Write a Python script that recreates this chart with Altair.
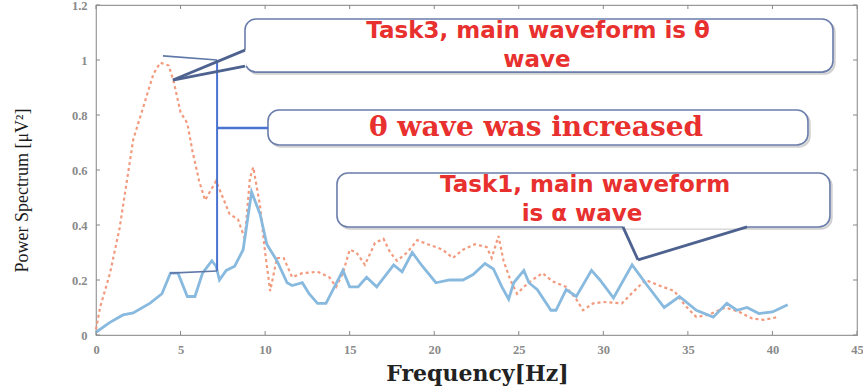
import altair as alt
import pandas as pd

# ---- data ----
task1_freq = [0.0, 0.8, 1.6, 2.2, 3.2, 3.9, 4.4, 4.85, 5.4, 5.85, 6.3, 6.85, 7.1, 7.3, 7.7, 8.2,
              8.7, 9.2, 9.7, 10.1, 10.7, 11.3, 11.6, 12.2, 12.6, 13.1, 13.6, 14.1, 14.6, 15.0,
              15.5, 16.0, 16.6, 17.6, 18.1, 18.7, 19.3, 20.1, 20.9, 21.7, 22.3, 23.0, 23.5,
              24.0, 24.4, 24.7, 25.3, 25.6, 26.1, 26.9, 27.2, 27.8, 28.4, 29.3, 29.8, 30.6,
              31.7, 32.6, 33.6, 34.5, 35.5, 36.5, 37.3, 37.9, 38.5, 39.2, 40.0, 40.9]
task1_power = [0.01, 0.045, 0.073, 0.08, 0.116, 0.15, 0.225, 0.225, 0.14, 0.14, 0.225, 0.27,
               0.25, 0.2, 0.235, 0.25, 0.31, 0.52, 0.44, 0.33, 0.27, 0.19, 0.18, 0.19, 0.15,
               0.115, 0.115, 0.175, 0.235, 0.175, 0.175, 0.21, 0.175, 0.255, 0.23, 0.3, 0.25,
               0.19, 0.2, 0.2, 0.22, 0.26, 0.24, 0.175, 0.13, 0.19, 0.235, 0.19, 0.165, 0.09,
               0.09, 0.165, 0.14, 0.235, 0.2, 0.135, 0.255, 0.18, 0.1, 0.14, 0.09, 0.065,
               0.115, 0.09, 0.1, 0.078, 0.084, 0.11]

task3_freq = [0.0, 0.24, 0.83, 1.4, 1.8, 2.2, 2.6, 3.0, 3.4, 3.8, 4.3, 4.6, 5.0, 5.4, 5.7, 6.1,
              6.45, 7.1, 7.5, 7.9, 8.4, 8.8, 9.1, 9.3, 9.7, 10.0, 10.3, 10.7, 11.1, 11.6, 12.2,
              13.1, 13.8, 14.2, 14.6, 15.0, 15.4, 15.9, 16.5, 17.0, 17.4, 17.8, 18.4, 19.0,
              19.6, 20.1, 20.5, 21.1, 21.7, 22.4, 23.1, 23.4, 23.8, 24.1, 24.5, 24.9, 25.3,
              25.8, 26.4, 27.0, 27.8, 28.4, 28.8, 29.4, 30.0, 31.1, 31.9, 32.5, 33.3, 34.2,
              34.8, 35.5, 36.3, 37.2, 38.0, 38.8, 39.5, 40.3]
task3_power = [0.02, 0.1, 0.225, 0.39, 0.55, 0.71, 0.79, 0.87, 0.95, 0.99, 0.98, 0.92, 0.81,
               0.77, 0.67, 0.56, 0.49, 0.56, 0.5, 0.44, 0.42, 0.35, 0.57, 0.61, 0.47, 0.3,
               0.16, 0.28, 0.28, 0.21, 0.225, 0.23, 0.21, 0.175, 0.225, 0.31, 0.3, 0.255,
               0.335, 0.35, 0.3, 0.27, 0.3, 0.345, 0.33, 0.32, 0.31, 0.28, 0.31, 0.33, 0.32,
               0.28, 0.36, 0.27, 0.2, 0.15, 0.175, 0.2, 0.225, 0.195, 0.175, 0.13, 0.09,
               0.115, 0.12, 0.115, 0.165, 0.2, 0.18, 0.16, 0.11, 0.065, 0.075, 0.1, 0.085,
               0.06, 0.055, 0.065]

x_ticks = [0, 5, 10, 15, 20, 25, 30, 35, 40, 45]
y_ticks = [0, 0.2, 0.4, 0.6, 0.8, 1.0, 1.2]

# annotation callout boxes (data coordinates)
box_x1 = [8.81, 10.17, 14.25]
box_x2 = [43.58, 42.10, 43.40]
box_y1 = [1.149, 0.818, 0.589]
box_y2 = [0.956, 0.691, 0.393]

# annotation texts
sans_text = ["Task3, main waveform is \u03b8", "wave", "Task1, main waveform", "is \u03b1 wave"]
sans_x = [26.14, 26.08, 28.92, 28.74]
sans_y = [1.105, 1.0, 0.545, 0.44]
serif_text = ["\u03b8 wave was increased"]
serif_x = [26.02]
serif_y = [0.753]

W, H = 761, 330
xs = alt.Scale(domain=[0, 45], nice=False, zero=False)
ys = alt.Scale(domain=[0, 1.2], nice=False, zero=False)

series = pd.concat([
    pd.DataFrame({"f": task1_freq, "p": task1_power, "task": "Task1"}),
    pd.DataFrame({"f": task3_freq, "p": task3_power, "task": "Task3"}),
])

AX = alt.Axis(values=x_ticks, ticks=False, domain=False, grid=False,
              labelFont="Liberation Serif", labelFontSize=12.5, labelFontWeight="bold",
              labelColor="#8a8a8a", labelPadding=8, labelFlush=False,
              title="Frequency[Hz]", titleFont="DejaVu Serif", titleFontSize=22,
              titleFontWeight="bold", titleColor="#222222", titleX=381, titleY=38,
              titleBaseline="middle", titleAlign="center")
AY = alt.Axis(values=y_ticks, ticks=False, domain=False, grid=False,
              labelFont="Liberation Serif", labelFontSize=12.5, labelFontWeight="bold",
              labelColor="#8a8a8a", labelPadding=9, labelFlush=False,
              labelExpr="datum.value == 0 ? '0' : datum.value == 1 ? '1' : format(datum.value, '.1f')",
              title="Power Spectrum [\u03bcV\u00b2]", titleFont="Liberation Serif",
              titleFontSize=18, titleFontWeight="normal", titleColor="#1a1a1a",
              titleX=-74, titleY=185, titleAngle=270, titleAlign="center",
              titleBaseline="middle")


def X(field):
    return alt.X(field, scale=xs, axis=AX)


def Y(field):
    return alt.Y(field, scale=ys, axis=AY)


task3_line = alt.Chart(series[series.task == "Task3"]).mark_line(
    color="#f29a7e", strokeWidth=2.2, strokeDash=[3, 3]
).encode(x=X("f:Q"), y=Y("p:Q"))

task1_line = alt.Chart(series[series.task == "Task1"]).mark_line(
    color="#88b9de", strokeWidth=2.8
).encode(x=X("f:Q"), y=Y("p:Q"))

# inward frame ticks
xt = pd.DataFrame({"v": x_ticks})
yt = pd.DataFrame({"v": y_ticks})
tick_col = "#888888"
bottom_ticks = alt.Chart(xt).mark_rule(color=tick_col, strokeWidth=1).encode(
    x=X("v:Q"), y=alt.value(H), y2=alt.value(H - 4))
top_ticks = alt.Chart(xt).mark_rule(color=tick_col, strokeWidth=1).encode(
    x=X("v:Q"), y=alt.value(0), y2=alt.value(4))
left_ticks = alt.Chart(yt).mark_rule(color=tick_col, strokeWidth=1).encode(
    y=Y("v:Q"), x=alt.value(0), x2=alt.value(4))
right_ticks = alt.Chart(yt).mark_rule(color=tick_col, strokeWidth=1).encode(
    y=Y("v:Q"), x=alt.value(W), x2=alt.value(W - 4))

# callout boxes
boxes_df = pd.DataFrame({"x1": box_x1, "x2": box_x2, "y1": box_y1, "y2": box_y2})
shadow = alt.Chart(boxes_df).mark_rect(
    fill="#dddddd", stroke="#d0d0d0", strokeWidth=1.5, cornerRadius=11,
    xOffset=2, yOffset=2, x2Offset=2, y2Offset=2
).encode(x=X("x1:Q"), x2="x2:Q", y=Y("y1:Q"), y2="y2:Q")
boxes = alt.Chart(boxes_df).mark_rect(
    fill="white", stroke="#6a7dab", strokeWidth=1.6, cornerRadius=11
).encode(x=X("x1:Q"), x2="x2:Q", y=Y("y1:Q"), y2="y2:Q")

# gaps in box outlines where the pointers attach
gaps_df = pd.DataFrame({"x1": [8.81, 31.16], "x2": [8.81, 38.50],
                        "y1": [1.036, 0.393], "y2": [0.978, 0.393]})
gaps = alt.Chart(gaps_df).mark_rule(color="white", strokeWidth=3).encode(
    x=X("x1:Q"), x2="x2:Q", y=Y("y1:Q"), y2="y2:Q")

# connector / bracket / pointer segments
seg_df = pd.DataFrame({
    "x1": [3.96, 7.16, 4.38, 7.16, 4.55, 4.55, 31.16, 32.05],
    "y1": [1.015, 1.0, 0.225, 0.753, 0.927, 0.927, 0.393, 0.273],
    "x2": [7.16, 7.16, 7.16, 10.17, 8.81, 8.81, 32.05, 38.50],
    "y2": [1.0, 0.233, 0.233, 0.753, 1.036, 0.978, 0.273, 0.393],
    "kind": ["thin", "vert", "thin", "conn", "ptr", "ptr", "ptr", "ptr"],
})
seg_color = alt.Scale(domain=["thin", "vert", "conn", "ptr"],
                      range=["#6078a8", "#4a72d0", "#4a72d0", "#4d628f"])
seg_width = alt.Scale(domain=["thin", "vert", "conn", "ptr"], range=[1.6, 2.8, 2.0, 1.8])
segments = alt.Chart(seg_df).mark_rule().encode(
    x=X("x1:Q"), x2="x2:Q", y=Y("y1:Q"), y2="y2:Q",
    color=alt.Color("kind:N", scale=seg_color, legend=None),
    strokeWidth=alt.StrokeWidth("kind:N", scale=seg_width, legend=None))

sans_df = pd.DataFrame({"x": sans_x, "y": sans_y, "t": sans_text})
sans_labels = alt.Chart(sans_df).mark_text(
    font="DejaVu Sans", fontSize=23, fontWeight="bold", color="#e8302e",
    align="center", baseline="middle"
).encode(x=X("x:Q"), y=Y("y:Q"), text="t:N")

serif_df = pd.DataFrame({"x": serif_x, "y": serif_y, "t": serif_text})
serif_labels = alt.Chart(serif_df).mark_text(
    font="DejaVu Serif", fontSize=28, fontWeight="bold", color="#e8302e",
    align="center", baseline="middle"
).encode(x=X("x:Q"), y=Y("y:Q"), text="t:N")

chart = alt.layer(
    task3_line, task1_line,
    bottom_ticks, top_ticks, left_ticks, right_ticks,
    shadow, boxes, gaps, segments, sans_labels, serif_labels
).properties(
    width=W, height=H,
    autosize=alt.AutoSizeParams(type="none"),
    padding={"left": 96, "top": 5, "right": 6, "bottom": 54},
    background="white",
).configure_view(stroke="#9a9a9a", strokeWidth=1.2)

chart.save("out.html", embed_options={"renderer": "svg", "actions": False})
